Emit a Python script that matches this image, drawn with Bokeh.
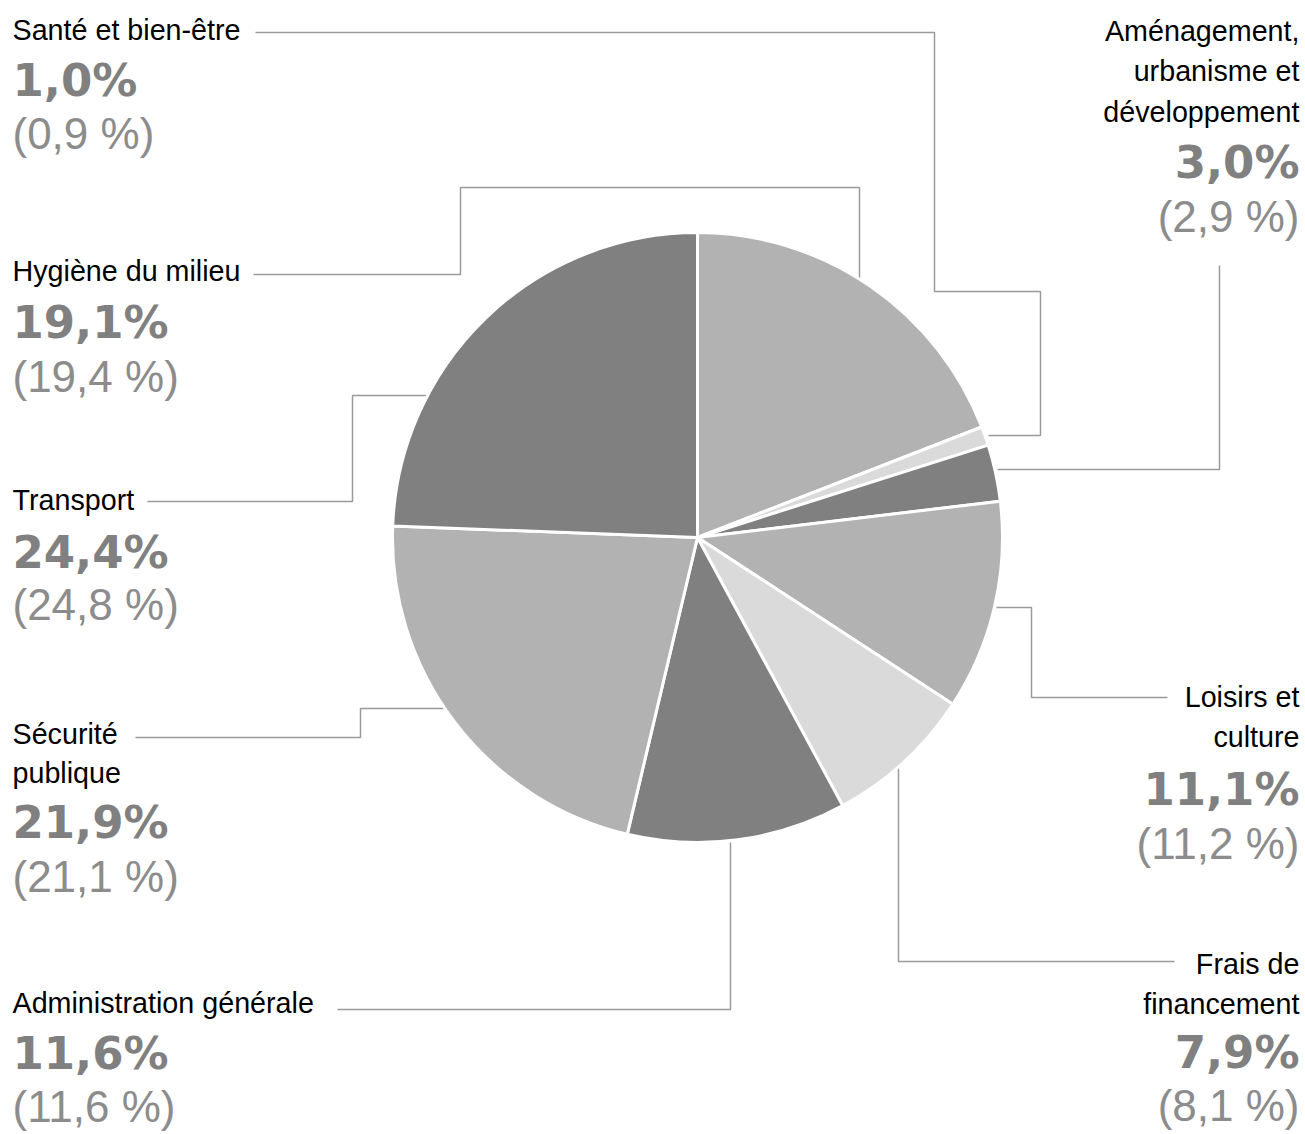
import numpy as np
from bokeh.plotting import figure
from bokeh.models import ColumnDataSource, Range1d
from bokeh.core.properties import value
from bokeh.embed import file_html
from bokeh.resources import INLINE

# ---------------- data ----------------
categories = [
    "Hygiène du milieu",
    "Santé et bien-être",
    "Aménagement, urbanisme et développement",
    "Loisirs et culture",
    "Frais de financement",
    "Administration générale",
    "Sécurité publique",
    "Transport",
]
share_current = [19.1, 1.0, 3.0, 11.1, 7.9, 11.6, 21.9, 24.4]
share_previous = [19.4, 0.9, 2.9, 11.2, 8.1, 11.6, 21.1, 24.8]
slice_colors = ["#b2b2b2", "#dadada", "#808080", "#b2b2b2",
                "#dadada", "#808080", "#b2b2b2", "#808080"]

# label lines (how each category name is wrapped)
name_lines = [
    ["Hygiène du milieu"],
    ["Santé et bien-être"],
    ["Aménagement,", "urbanisme et", "développement"],
    ["Loisirs et", "culture"],
    ["Frais de", "financement"],
    ["Administration générale"],
    ["Sécurité", "publique"],
    ["Transport"],
]

# ---------------- layout (page pixels) ----------------
W, H = 1305, 1134


def Y(py):
    return H - py


CX, CY, R = 697, 537, 305
LX, RX = 12, 1299

# per category: x, align, name line y's, bold y, paren y
label_layout = [
    (LX, "left", [270], 322, 376),
    (LX, "left", [29], 80, 133),
    (RX, "right", [30, 70, 111], 162, 216),
    (RX, "right", [696, 736], 789, 843),
    (RX, "right", [963, 1003], 1052, 1105),
    (LX, "left", [1002], 1053, 1106),
    (LX, "left", [733, 772], 822, 876),
    (LX, "left", [499], 552, 604),
]

leaders = [
    [(253, 274), (460, 274), (460, 187), (859, 187), (859, 281)],
    [(255, 32), (934, 32), (934, 291), (1040, 291), (1040, 435), (988, 435)],
    [(1219, 265), (1219, 469), (997, 469)],
    [(1167, 697), (1031, 697), (1031, 607), (996, 607)],
    [(1174, 961), (898, 961), (898, 768)],
    [(337, 1009), (730, 1009), (730, 842)],
    [(135, 737), (360, 737), (360, 708), (443, 708)],
    [(147, 501), (352, 501), (352, 395), (426, 395)],
]

# ---------------- figure ----------------
p = figure(width=W, height=H, x_range=Range1d(0, W), y_range=Range1d(0, H),
           output_backend="svg", toolbar_location=None, min_border=0,
           x_axis_type=None, y_axis_type=None, outline_line_color=None,
           background_fill_color="white", border_fill_color="white")
p.grid.visible = False

# leader lines
p.multi_line(xs=[[pt[0] for pt in l] for l in leaders],
             ys=[[Y(pt[1]) for pt in l] for l in leaders],
             line_color="#9a9a9a", line_width=1.5)

# pie
frac = np.array(share_current) / np.sum(share_current)
cum_end = np.cumsum(frac)
cum_start = cum_end - frac
pie_src = ColumnDataSource(dict(
    cat=categories,
    start=np.pi / 2 - 2 * np.pi * cum_end,
    end=np.pi / 2 - 2 * np.pi * cum_start,
    color=slice_colors,
))
p.wedge(x=CX, y=Y(CY), radius=R, start_angle="start", end_angle="end",
        fill_color="color", line_color="white", line_width=3, source=pie_src)


def fmt(v):
    return f"{v:.1f}".replace(".", ",")


name_src = {"left": dict(x=[], y=[], t=[]), "right": dict(x=[], y=[], t=[])}
bold_src = {"left": dict(x=[], y=[], t=[]), "right": dict(x=[], y=[], t=[])}
paren_src = {"left": dict(x=[], y=[], t=[]), "right": dict(x=[], y=[], t=[])}

for i, cat in enumerate(categories):
    x, align, nys, by, pyy = label_layout[i]
    for line, ny in zip(name_lines[i], nys):
        name_src[align]["x"].append(x)
        name_src[align]["y"].append(Y(ny))
        name_src[align]["t"].append(line)
    bold_src[align]["x"].append(x)
    bold_src[align]["y"].append(Y(by))
    bold_src[align]["t"].append(fmt(share_current[i]) + "%")
    paren_src[align]["x"].append(x)
    paren_src[align]["y"].append(Y(pyy))
    paren_src[align]["t"].append("(" + fmt(share_previous[i]) + " %)")

for align in ("left", "right"):
    p.text(x="x", y="y", text="t", source=ColumnDataSource(name_src[align]),
           text_font=value("Liberation Sans"), text_font_size=value("28.7px"),
           text_color="#000000", text_align=align, text_baseline="alphabetic")
    p.text(x="x", y="y", text="t", source=ColumnDataSource(bold_src[align]),
           text_font=value("DejaVu Sans"), text_font_style="bold",
           text_font_size=value("45px"),
           text_color="#808080", text_align=align, text_baseline="alphabetic")
    p.text(x="x", y="y", text="t", source=ColumnDataSource(paren_src[align]),
           text_font=value("Liberation Sans"), text_font_size=value("44px"),
           text_color="#8c8c8c", text_align=align, text_baseline="alphabetic")

open("out.html", "w").write(file_html(p, INLINE))
